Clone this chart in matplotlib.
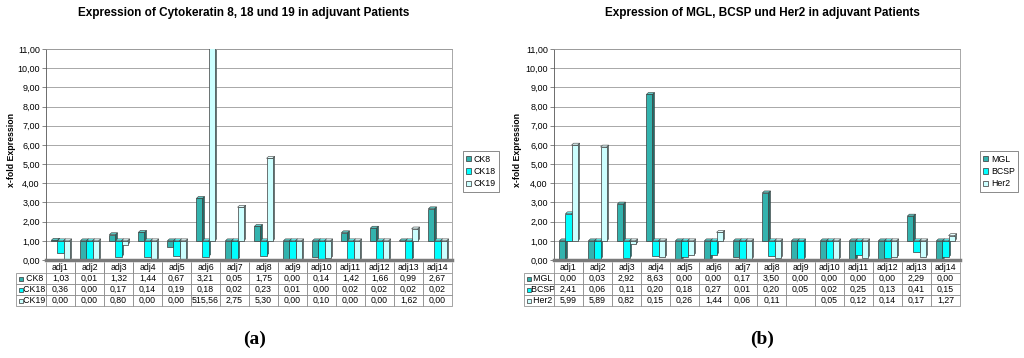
import numpy as np
import matplotlib
matplotlib.use("Agg")
import matplotlib.pyplot as plt
from matplotlib.patches import Patch

plt.rcParams['font.family'] = ['Liberation Sans', 'DejaVu Sans']

categories = ["adj%d" % i for i in range(1, 15)]

# Panel (a)
ck8 = [1.03, 0.01, 1.32, 1.44, 0.67, 3.21, 0.05, 1.75, 0.00, 0.14, 1.42, 1.66, 0.99, 2.67]
ck18 = [0.36, 0.00, 0.17, 0.14, 0.19, 0.18, 0.02, 0.23, 0.01, 0.00, 0.02, 0.02, 0.02, 0.02]
ck19 = [0.00, 0.00, 0.80, 0.00, 0.00, 515.56, 2.75, 5.30, 0.00, 0.10, 0.00, 0.00, 1.62, 0.00]

# Panel (b)
mgl = [0.00, 0.03, 2.92, 8.63, 0.00, 0.00, 0.17, 3.50, 0.00, 0.00, 0.00, 0.00, 2.29, 0.00]
bcsp = [2.41, 0.06, 0.11, 0.20, 0.18, 0.27, 0.01, 0.20, 0.05, 0.02, 0.25, 0.13, 0.41, 0.15]
her2 = [5.99, 5.89, 0.82, 0.15, 0.26, 1.44, 0.06, 0.11, np.nan, 0.05, 0.12, 0.14, 0.17, 1.27]

baseline = 1.0
yticks = list(range(0, 12))

front = ['#33B3AE', '#00FFFF', '#CCFFFF']
side = ['#1E6E6A', '#009A9A', '#7FA8A8']
top = ['#5CC9C4', '#66FFFF', '#E6FFFF']

W, H = 1024, 358
fig = plt.figure(figsize=(W / 100, H / 100), dpi=100)


def fmt(v):
    if v is None or (isinstance(v, float) and np.isnan(v)):
        return ""
    return ("%.2f" % v).replace('.', ',')


def panel(left_px, names, series, title, title_x, legend_x, ylabel_x, sub, sub_x):
    ax = fig.add_axes([left_px / W, (H - 260) / H, 406 / W, 211 / H])
    n = len(categories)
    x = np.arange(n)
    bw = 0.21
    offs = [-bw, 0.0, bw]
    dx, dy = 0.07, 0.1
    ax.set_xlim(-0.5, n - 0.5)
    ax.set_ylim(0, 11)
    for yv in yticks:
        ax.axhline(yv, color='#9A9A9A', lw=0.6, zorder=0)
    for k, vals in enumerate(series):
        v = np.array(vals, dtype=float)
        ok = ~np.isnan(v)
        xs = x[ok] + offs[k]
        vv = v[ok]
        ax.bar(xs, vv - baseline, bottom=baseline, width=bw, color=front[k],
               edgecolor='#3A3A3A', linewidth=0.5, zorder=3)
        for xc, val in zip(xs, vv):
            xr = xc + bw / 2
            xl = xc - bw / 2
            lo, hi = min(baseline, val), max(baseline, val)
            ax.fill([xr, xr + dx, xr + dx, xr], [lo, lo + dy, hi + dy, hi],
                    color=side[k], ec='#3A3A3A', lw=0.4, zorder=2)
            ax.fill([xl, xl + dx, xr + dx, xr], [hi, hi + dy, hi + dy, hi],
                    color=top[k], ec='#3A3A3A', lw=0.4, zorder=2)
    ax.axhline(0, color='#7A7A7A', lw=2.5, zorder=4, clip_on=False)
    ax.set_yticks(yticks)
    ax.set_yticklabels([fmt(float(t)) for t in yticks], fontsize=6.5)
    ax.tick_params(axis='y', length=3, width=0.5, pad=1.5, color='#555555')
    ax.set_xticks([])
    for s in ['top', 'right']:
        ax.spines[s].set_color('#9A9A9A')
        ax.spines[s].set_linewidth(0.6)
    ax.spines['left'].set_color('#555555')
    ax.spines['left'].set_linewidth(0.6)
    ax.spines['bottom'].set_visible(False)

    # data table
    cw0 = 30.0
    cws = [cw0] + [406.0 / n] * n
    tot = sum(cws)
    x0 = -cw0 / 406.0
    cell_text = []
    for nm, vals in zip(names, series):
        cell_text.append(["   " + nm] + [fmt(float(v)) for v in vals])
    tb = ax.table(cellText=cell_text, colLabels=[""] + categories,
                  colWidths=[c / tot for c in cws],
                  bbox=[x0, -46 / 211, tot / 406.0, 44 / 211],
                  cellLoc='center')
    tb.auto_set_font_size(False)
    tb.set_fontsize(6.3)
    for (r, c), cell in tb.get_celld().items():
        cell.set_edgecolor('#808080')
        cell.set_linewidth(0.5)
        if r == 0:
            cell.visible_edges = 'LR' if c > 0 else ''
        if c == 0:
            cell._loc = 'left'
            cell.PAD = 0.02
    # colored squares in the row-label cells
    rh = 44 / 211 / 4
    for k in range(3):
        yc = -46 / 211 + rh * (2 - k) + rh / 2
        ax.plot([x0 + 5 / 406], [yc], marker='s', ms=3.4, mfc=front[k],
                mec='#333333', mew=0.5, transform=ax.transAxes, clip_on=False, zorder=10)

    handles = [Patch(facecolor=front[k], edgecolor='#333333', lw=0.5, label=names[k])
               for k in range(3)]
    leg = ax.legend(handles=handles, loc='center left',
                    bbox_to_anchor=((legend_x - left_px) / 406, (260 - 171.5) / 211),
                    fontsize=6.3, frameon=True, fancybox=False, handlelength=0.6,
                    handleheight=0.6, handletextpad=0.3, borderpad=0.35,
                    labelspacing=0.4, borderaxespad=0)
    leg.get_frame().set_edgecolor('#333333')
    leg.get_frame().set_linewidth(0.5)

    fig.text(title_x / W, 1 - 13 / H, title, ha='center', va='center',
             fontsize=8.5, fontweight='bold')
    fig.text(ylabel_x / W, 1 - 150 / H, "x-fold Expression", rotation=90,
             ha='center', va='center', fontsize=6.3, fontweight='bold')
    fig.text(sub_x / W, 1 - 339 / H, sub, ha='center', va='center',
             fontsize=14, fontweight='bold', family=['Liberation Serif', 'DejaVu Serif'])
    return ax


panel(46, ["CK8", "CK18", "CK19"], [ck8, ck18, ck19],
      "Expression of Cytokeratin 8, 18 und 19 in adjuvant Patients", 244, 463, 12, "(a)", 255)
panel(554, ["MGL", "BCSP", "Her2"], [mgl, bcsp, her2],
      "Expression of MGL, BCSP und Her2 in adjuvant Patients", 762, 980, 518, "(b)", 762)

fig.savefig("out.png", dpi=100, facecolor='white')
